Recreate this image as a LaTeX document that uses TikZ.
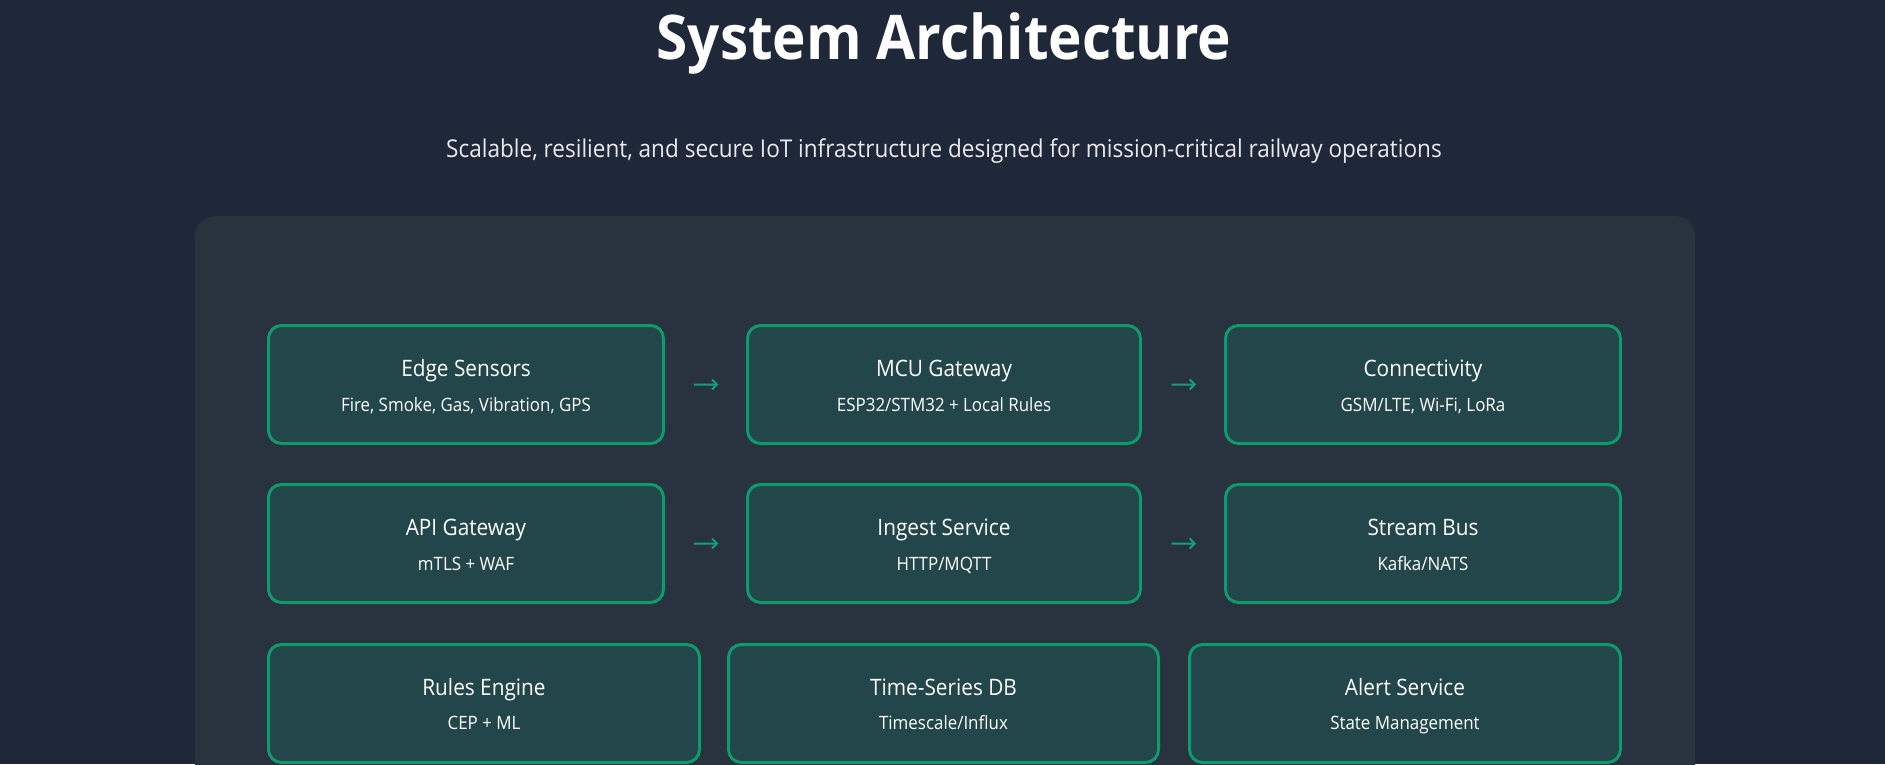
\documentclass[tikz,border=0pt]{standalone}
\usepackage{fontspec}
\setmainfont{Open Sans}[FakeStretch=0.92]
\usetikzlibrary{calc,arrows.meta}

\definecolor{pagebg}{HTML}{1F2838}
\definecolor{panelbg}{HTML}{29333F}
\definecolor{boxfill}{HTML}{22464A}
\definecolor{boxline}{HTML}{0E9A6C}
\definecolor{flowgreen}{HTML}{12A27A}
\definecolor{subgray}{HTML}{E8EAEE}

\tikzset{
    blk/.style={draw=boxline, fill=boxfill, line width=3pt, rounded corners=13pt,
        minimum height=118pt, inner sep=0pt},
    blktitle/.style={anchor=base, inner sep=0pt, text=white,
        font=\fontsize{22.6}{26}\selectfont},
    blksub/.style={anchor=base, inner sep=0pt, text=white,
        font=\fontsize{18.4}{21}\selectfont},
    flow/.style={-{Straight Barb[length=5pt,width=10pt]}, draw=flowgreen, line width=2pt},
}

\begin{document}
\begin{tikzpicture}[x=1pt, y=-1pt]
    \useasboundingbox (0,0) rectangle (1885,764);
    \clip (0,0) rectangle (1885,764);
    \fill[pagebg] (0,0) rectangle (1885,764);
    \fill[panelbg, rounded corners=20pt] (195,216) rectangle (1695,820);

    % heading
    \node[anchor=base, inner sep=0pt, text=white, font=\fontsize{61.6}{70}\selectfont\bfseries] (title) at (944,59) {System Architecture};
    \node[anchor=base, inner sep=0pt, text=subgray, font=\fontsize{24.5}{28}\selectfont] (lead) at (944,157) {Scalable, resilient, and secure IoT infrastructure designed for mission-critical railway operations};

    % row 1
    \node[blk, minimum width=395pt] (edge) at (466,384.5) {};
    \node[blk, minimum width=393pt] (mcu) at (944,384.5) {};
    \node[blk, minimum width=395pt] (conn) at (1423,384.5) {};
    \node[blktitle] (edge-t) at ([yshift=8.5pt]edge.center) {Edge Sensors};
    \node[blksub] (edge-s) at ([yshift=-26.5pt]edge.center) {Fire, Smoke, Gas, Vibration, GPS};
    \node[blktitle] (mcu-t) at ([yshift=8.5pt]mcu.center) {MCU Gateway};
    \node[blksub] (mcu-s) at ([yshift=-26.5pt]mcu.center) {ESP32/STM32 + Local Rules};
    \node[blktitle] (conn-t) at ([yshift=8.5pt]conn.center) {Connectivity};
    \node[blksub] (conn-s) at ([yshift=-26.5pt]conn.center) {GSM/LTE, Wi-Fi, LoRa};
    \draw[flow] ($(edge.east)!0.36!(mcu.west)$) -- ($(edge.east)!0.66!(mcu.west)$);
    \draw[flow] ($(mcu.east)!0.36!(conn.west)$) -- ($(mcu.east)!0.66!(conn.west)$);

    % row 2
    \node[blk, minimum width=395pt] (api) at (466,543.5) {};
    \node[blk, minimum width=393pt] (ingest) at (944,543.5) {};
    \node[blk, minimum width=395pt] (bus) at (1423,543.5) {};
    \node[blktitle] (api-t) at ([yshift=8.5pt]api.center) {API Gateway};
    \node[blksub] (api-s) at ([yshift=-26.5pt]api.center) {mTLS + WAF};
    \node[blktitle] (ingest-t) at ([yshift=8.5pt]ingest.center) {Ingest Service};
    \node[blksub] (ingest-s) at ([yshift=-26.5pt]ingest.center) {HTTP/MQTT};
    \node[blktitle] (bus-t) at ([yshift=8.5pt]bus.center) {Stream Bus};
    \node[blksub] (bus-s) at ([yshift=-26.5pt]bus.center) {Kafka/NATS};
    \draw[flow] ($(api.east)!0.36!(ingest.west)$) -- ($(api.east)!0.66!(ingest.west)$);
    \draw[flow] ($(ingest.east)!0.36!(bus.west)$) -- ($(ingest.east)!0.66!(bus.west)$);

    % row 3
    \node[blk, minimum width=431pt] (rules) at (484,703.5) {};
    \node[blk, minimum width=430pt] (tsdb) at (943.5,703.5) {};
    \node[blk, minimum width=431pt] (alert) at (1405,703.5) {};
    \node[blktitle] (rules-t) at ([yshift=8.5pt]rules.center) {Rules Engine};
    \node[blksub] (rules-s) at ([yshift=-26pt]rules.center) {CEP + ML};
    \node[blktitle] (tsdb-t) at ([yshift=8.5pt]tsdb.center) {Time-Series DB};
    \node[blksub] (tsdb-s) at ([yshift=-26pt]tsdb.center) {Timescale/Influx};
    \node[blktitle] (alert-t) at ([yshift=8.5pt]alert.center) {Alert Service};
    \node[blksub] (alert-s) at ([yshift=-26pt]alert.center) {State Management};
\end{tikzpicture}
\end{document}
